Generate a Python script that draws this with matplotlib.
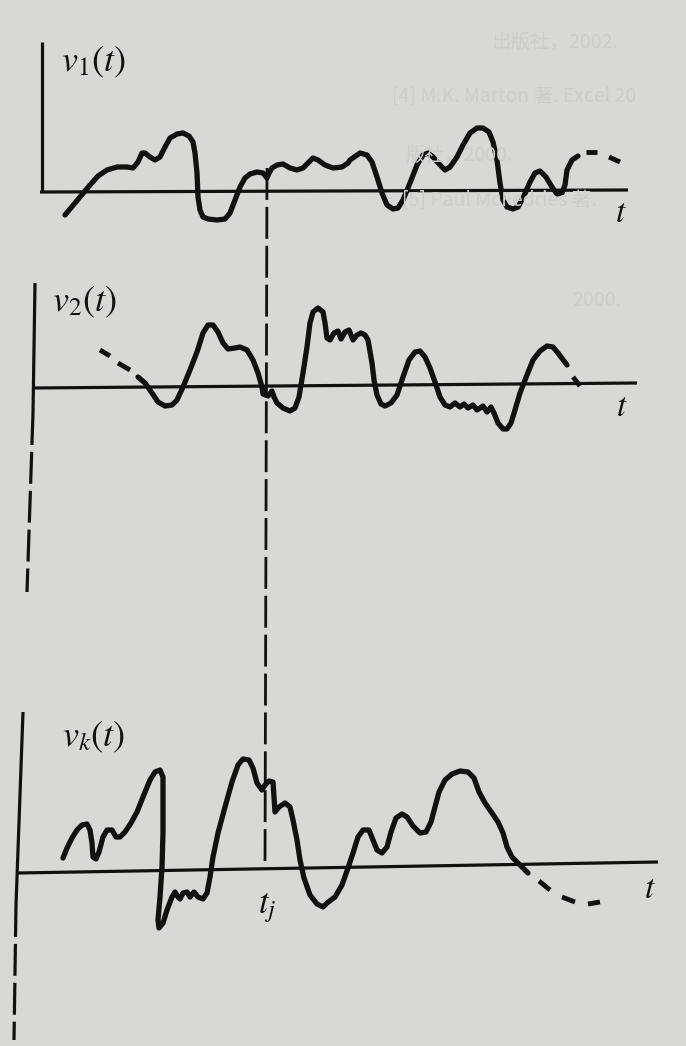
import matplotlib
matplotlib.use("Agg")
import matplotlib.pyplot as plt

plt.rcParams['mathtext.fontset'] = 'stix'
plt.rcParams['lines.scale_dashes'] = False

# ---------------- data (t in drawing units, v relative to each baseline) ----------------
t1 = [65, 80, 90, 98, 107, 117, 127, 133, 138, 142, 145, 150, 155, 160, 165, 170, 177, 183,
      189, 193, 195, 197, 198, 200, 203, 208, 217, 225, 230, 235, 240, 245, 250, 257, 263,
      267, 269, 272, 277, 283, 290, 297, 303, 308, 313, 318, 325, 333, 342, 348, 350, 360,
      367, 372, 377, 382, 387, 393, 398, 403, 410, 417, 423, 428, 433, 440, 445, 450, 457,
      463, 470, 477, 483, 489, 493, 497, 500, 503, 507, 513, 518, 523, 530, 535, 540, 546,
      552, 557, 562, 565, 567, 572, 578]
v1 = [-25, -7, 5, 14, 20, 23, 23, 22, 28, 37, 37, 33, 30, 33, 43, 52, 56, 57,
      54, 48, 37, 17, -7, -20, -27, -29, -30, -29, -23, -10, 3, 12, 16, 18, 17,
      12, 17, 22, 25, 26, 22, 20, 22, 27, 32, 30, 25, 22, 23, 27, 30, 37,
      35, 28, 13, -3, -15, -19, -18, -10, 7, 25, 35, 37, 33, 25, 20, 23, 33,
      45, 57, 62, 62, 58, 48, 30, 7, -10, -17, -19, -17, -8, 8, 17, 19, 13,
      3, -4, -3, 5, 20, 30, 34]
tail1 = [([586, 597], [38, 38]), ([609, 620], [33, 28])]

head2 = [([100, 110], [35, 29]), ([118, 130], [22, 15])]
t2 = [138, 145, 152, 158, 165, 172, 177, 183, 190, 197, 203, 208, 213, 218, 223, 228, 235,
      240, 247, 253, 258, 262, 263, 268, 272, 274, 277, 283, 290, 295, 299, 303, 307, 310,
      313, 318, 323, 325, 327, 330, 334, 338, 341, 345, 349, 353, 357, 361, 365, 368, 372,
      374, 377, 381, 385, 391, 397, 403, 409, 415, 420, 425, 430, 435, 440, 445, 450, 455,
      460, 464, 468, 473, 477, 483, 487, 491, 494, 498, 503, 507, 511, 515, 520, 527, 533,
      540, 547, 553, 558, 567]
v2 = [8, 2, -8, -17, -21, -20, -15, -2, 15, 33, 52, 60, 60, 53, 42, 36, 37,
      38, 35, 25, 12, -2, -9, -11, -6, -12, -18, -23, -26, -23, -12, 12, 38, 62,
      73, 77, 73, 62, 47, 45, 52, 54, 46, 53, 55, 45, 50, 52, 50, 45, 22,
      5, -10, -19, -21, -18, -10, 8, 25, 33, 34, 28, 17, 3, -12, -20, -22, -18,
      -22, -19, -23, -20, -25, -21, -27, -22, -28, -38, -44, -44, -38, -25, -8, 10, 25,
      34, 39, 38, 32, 20]
tail2 = [([573, 580], [8, -1])]

t3 = [63, 67, 72, 77, 82, 87, 90, 92, 93, 96, 99, 103, 107, 112, 116, 120, 125, 131,
      137, 143, 150, 155, 160, 163, 163, 163, 162, 160, 158, 159, 163, 167, 172, 175,
      178, 180, 183, 187, 190, 194, 198, 203, 207, 210, 213, 218, 225, 232, 238, 243,
      249, 253, 257, 262, 265, 269, 273, 274, 275, 279, 285, 290, 293, 297, 300, 304,
      310, 317, 323, 327, 335, 342, 348, 353, 358, 363, 369, 373, 377, 382, 387, 391,
      396, 402, 407, 413, 420, 426, 431, 435, 439, 445, 452, 460, 468, 474, 479, 485,
      492, 498, 503, 507, 512, 518, 523, 528]
v3 = [10, 20, 30, 38, 43, 44, 38, 25, 11, 9, 16, 31, 38, 38, 31, 31, 36, 45,
      56, 71, 88, 96, 98, 91, 68, 35, 1, -29, -52, -60, -55, -42, -29, -24,
      -29, -31, -25, -24, -29, -24, -29, -31, -25, -9, 11, 35, 61, 86, 103, 109,
      108, 100, 85, 78, 83, 87, 86, 71, 56, 61, 65, 61, 48, 28, 8, -10,
      -27, -36, -39, -35, -29, -17, 0, 15, 31, 38, 38, 28, 18, 15, 21, 36,
      50, 54, 51, 42, 35, 36, 46, 61, 76, 88, 94, 97, 96, 90, 76, 65,
      55, 46, 35, 21, 11, 5, 0, -5]
tail3 = [([539, 550], [-13, -22]), ([562, 575], [-29, -34]), ([588, 600], [-36, -34])]

# axis geometry (t, v)
base1 = ([40, 628], [-2, 0])
yax1 = ([42, 42], [-2, 148])
base2 = ([33, 637], [-3, 2])
yax2_solid = ([35, 33], [102, -28])
yax2_dash = ([33, 27], [-28, -207])
base3 = ([18, 658], [-5, 6])
yax3_solid = ([23, 16], [156, -37])
yax3_dash = ([16, 14], [-37, -172])
t_j = [267, 265]

labels = [r'$v_1(t)$', r'$v_2(t)$', r'$v_k(t)$']
ghost_lines = ['出版社，2002.', '[4] M.K. Marton 著. Excel 20', '版社，2000.',
               '[5] Paul McFedries 著.', '2000.']

# ---------------- figure ----------------
W, H = 686, 1046
BG = '#d8d8d6'
INK = '#111111'
fig = plt.figure(figsize=(W / 100, H / 100), dpi=100, facecolor=BG)

def band(top, bot, base):
    ax = fig.add_axes([0, 1 - bot / H, 1, (bot - top) / H])
    ax.set_xlim(0, W)
    ax.set_ylim(base - bot, base - top)
    ax.axis('off')
    ax.patch.set_alpha(0)
    return ax

ax1 = band(0, 240, 190)
ax2 = band(240, 620, 385)
ax3 = band(620, 1046, 868)

# faint show-through text from the other side of the page
ghost = '#cdcdcb'
gpos = [(492, 42), (392, 96), (405, 155), (402, 200), (572, 300)]
for (gx, gy), s in zip(gpos, ghost_lines):
    fig.text(gx / W, 1 - gy / H, s, fontsize=14, color=ghost,
             family=['Noto Sans CJK SC', 'DejaVu Sans'], va='center', zorder=0)

LW = 3.8
ALW = 2.3
axis_dash = (0, (23, 5))

kw = dict(color=INK, solid_capstyle='round', solid_joinstyle='round')

def tails(ax, segs):
    for tx, vx in segs:
        ax.plot(tx, vx, lw=LW - 0.3, color=INK, solid_capstyle='butt')

# panel 1
ax1.plot(*base1, lw=ALW, color=INK, solid_capstyle='butt')
ax1.plot(*yax1, lw=ALW, color=INK, solid_capstyle='butt')
ax1.plot(t1, v1, lw=LW, **kw)
tails(ax1, tail1)
ax1.text(61, 128, labels[0], fontsize=26, color=INK, va='center', ha='left')
ax1.text(621, -22, r'$t$', fontsize=24, color=INK, va='center', ha='center')

# panel 2
ax2.plot(*base2, lw=ALW, color=INK, solid_capstyle='butt')
ax2.plot(*yax2_solid, lw=ALW, color=INK, solid_capstyle='butt')
ax2.plot(*yax2_dash, lw=ALW, color=INK, linestyle=axis_dash)
tails(ax2, head2)
ax2.plot(t2, v2, lw=LW, **kw)
tails(ax2, tail2)
ax2.text(52, 83, labels[1], fontsize=26, color=INK, va='center', ha='left')
ax2.text(622, -21, r'$t$', fontsize=24, color=INK, va='center', ha='center')

# panel 3
ax3.plot(*base3, lw=ALW, color=INK, solid_capstyle='butt')
ax3.plot(*yax3_solid, lw=ALW, color=INK, solid_capstyle='butt')
ax3.plot(*yax3_dash, lw=ALW, color=INK, linestyle=axis_dash)
ax3.plot(t3, v3, lw=LW, **kw)
tails(ax3, tail3)
ax3.text(62, 131, labels[2], fontsize=26, color=INK, va='center', ha='left')
ax3.text(650, -20, r'$t$', fontsize=24, color=INK, va='center', ha='center')
ax3.text(267, -40, r'$t_j$', fontsize=25, color=INK, va='center', ha='center')

# sampling instant t_j: dashed line through all panels (drawn in panel-3 coordinates)
ax3.plot(t_j, [868 - 168, 1], lw=2.0, color=INK, linestyle=axis_dash, clip_on=False)

fig.savefig('out.png', dpi=100, facecolor=BG)
